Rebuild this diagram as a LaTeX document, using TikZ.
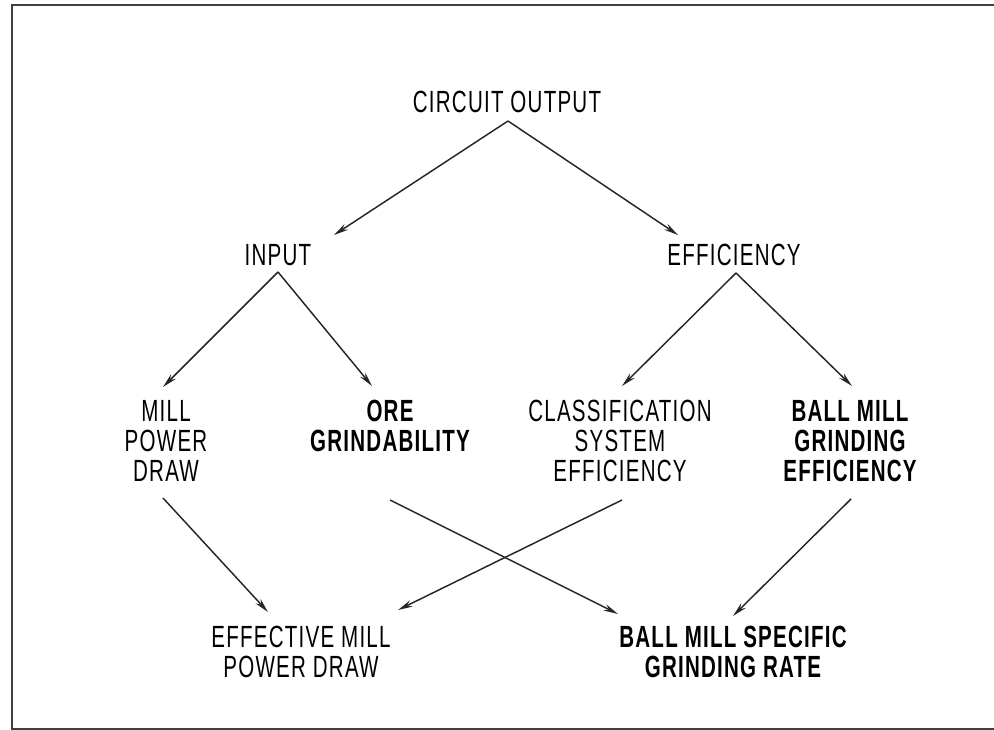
\documentclass[tikz,border=0pt]{standalone}
\usepackage{fontspec}
\setmainfont[FakeStretch=0.67,LetterSpace=4]{Liberation Sans}
\usetikzlibrary{arrows.meta,calc}
\begin{document}
\begin{tikzpicture}[x=0.75pt,y=-0.75pt,
  lbl/.style={inner sep=0pt,align=center,font=\fontsize{23}{22.5}\selectfont},
  blbl/.style={inner sep=0pt,align=center,font=\fontsize{23}{22.5}\selectfont\bfseries},
  conn/.style={line width=1.1pt,draw=black!85,-{Stealth[length=11pt,width=5pt]}},
  frame/.style={line width=1.6pt,draw=black!75}]
\useasboundingbox (0,0) rectangle (994,730);
\draw[frame] (1000,5) -- (12,5) -- (12,729) -- (1000,729);
\node[lbl]  (co)  at (507,102) {CIRCUIT OUTPUT};
\node[lbl]  (inp) at (278,255) {INPUT};
\node[lbl]  (eff) at (734,255) {EFFICIENCY};
\node[lbl]  (mpd) at (166,441) {MILL\\POWER\\DRAW};
\node[blbl] (ore) at (390,426) {ORE\\GRINDABILITY};
\node[lbl]  (cse) at (620,441) {CLASSIFICATION\\SYSTEM\\EFFICIENCY};
\node[blbl] (bge) at (850,441) {BALL MILL\\GRINDING\\EFFICIENCY};
\node[lbl]  (emp) at (301,652) {EFFECTIVE MILL\\POWER DRAW};
\node[blbl] (bsg) at (733,652) {BALL MILL SPECIFIC\\GRINDING RATE};
\draw[conn] ($(co)+(1,19)$) -- ($(inp)+(56,-20)$);
\draw[conn] ($(co)+(1,19)$) -- ($(eff)+(-56,-20)$);
\draw[conn] ($(inp)+(0,17)$) -- ($(mpd)+(-3,-54)$);
\draw[conn] ($(inp)+(0,17)$) -- ($(ore)+(-18,-40)$);
\draw[conn] ($(eff)+(2,18)$) -- ($(cse)+(2,-55)$);
\draw[conn] ($(eff)+(2,18)$) -- ($(bge)+(2,-55)$);
\draw[conn] ($(mpd)+(-3,57)$) -- ($(emp)+(-33,-40)$);
\draw[conn] ($(cse)+(2,59)$) -- ($(emp)+(97,-42)$);
\draw[conn] ($(ore)+(0,74)$) -- ($(bsg)+(-115,-38)$);
\draw[conn] ($(bge)+(1,58)$) -- ($(bsg)+(0,-36)$);
\end{tikzpicture}
\end{document}
